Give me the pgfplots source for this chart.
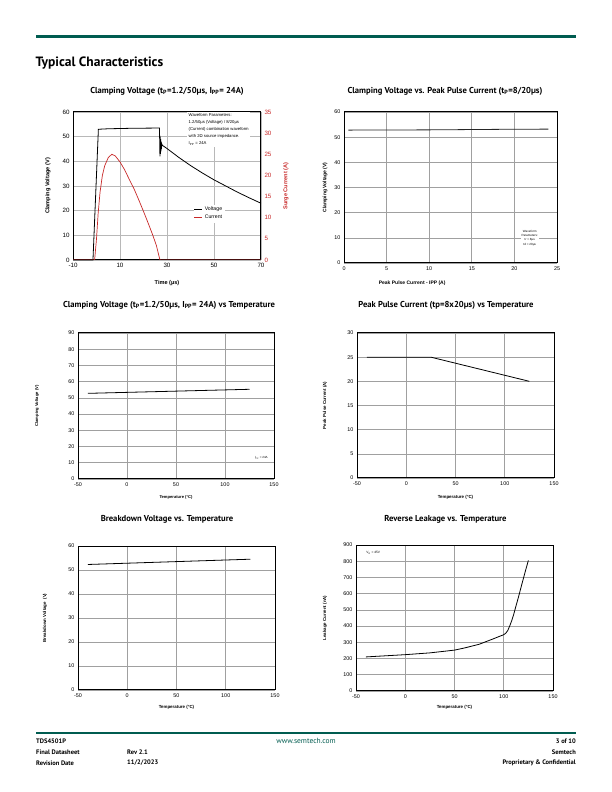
\documentclass[border=0pt]{standalone}
\usepackage{fontspec}
\setmainfont{PT Sans}
\newfontfamily\af{Liberation Sans}
\usepackage{pgfplots}
\pgfplotsset{compat=1.18}
\definecolor{semgreen}{RGB}{0,92,80}
\definecolor{cred}{RGB}{200,40,40}
\definecolor{gridc}{RGB}{160,160,160}
\newcommand{\fs}[1]{\fontsize{#1}{#1}\selectfont}
\pgfplotsset{
 ds/.style={scale only axis, anchor=south west, axis line style={line width=1pt},
   grid=major, grid style={gridc, line width=0.65pt}, major tick length=0pt,
   tick label style={font=\af\fs{5.4}}, /pgf/number format/assume math mode=true,
   label style={font=\af\bfseries\fs{4.4}}, clip=false},
 xl/.style={xlabel style={at={(axis description cs:#1)}, anchor=center}},
 yl/.style={ylabel style={at={(axis description cs:#1)}, anchor=center}},
}
\begin{document}
\begin{tikzpicture}
\fill[white] (0,0) rectangle (612pt,792pt);
\useasboundingbox (0,0) rectangle (612pt,792pt);
% header
\draw[semgreen, line width=3pt] (36pt,755pt) -- (576pt,755pt);
\node[anchor=west, inner sep=0, font=\bfseries\fs{13.5}] at (35.5pt,729pt) {Typical Characteristics};
% footer
\draw[semgreen, line width=2.5pt] (36pt,59pt) -- (576pt,59pt);
\node[anchor=west, inner sep=0, font=\bfseries\fs{6.5}] at (36pt,51pt) {TDS4501P};
\node[anchor=west, inner sep=0, font=\bfseries\fs{6.5}] at (36pt,40pt) {Final Datasheet};
\node[anchor=west, inner sep=0, font=\bfseries\fs{6.5}] at (36pt,29pt) {Revision Date};
\node[anchor=west, inner sep=0, font=\bfseries\fs{6.5}] at (127pt,40pt) {Rev 2.1};
\node[anchor=west, inner sep=0, font=\bfseries\fs{6.5}] at (127pt,29pt) {11/2/2023};
\node[inner sep=0, font=\fs{7.5}, text=semgreen] at (306pt,51pt) {www.semtech.com};
\node[anchor=east, inner sep=0, font=\bfseries\fs{6.5}] at (576pt,51pt) {3 of 10};
\node[anchor=east, inner sep=0, font=\bfseries\fs{6.5}] at (576pt,40pt) {Semtech};
\node[anchor=east, inner sep=0, font=\bfseries\fs{6.5}] at (576pt,29pt) {Proprietary \& Confidential};

% ---------- Plot 1 ----------
\node[font=\bfseries\fs{8.6}] at (167pt,701pt) {Clamping Voltage (t\textsubscript{P}=1.2/50µs, I\textsubscript{PP}= 24A)};
\begin{axis}[ds, at={(73pt,532pt)}, width=188pt, height=148pt,
  xmin=-10, xmax=70, ymin=0, ymax=60, xtick={-10,10,...,70}, ytick={0,10,...,60},
  grid style={gridc!75}, tick label style={font=\af\fs{6.2}},
  label style={font=\af\bfseries\fs{5.6}},
  xlabel={Time (µs)}, ylabel={Clamping Voltage (V)},
  xl={0.5,-0.155}, yl={-0.133,0.5}]
\addplot[black, line width=0.8pt] coordinates {
(-10,0) (-1.5,0) (0.8,53) (5,53.2) (15,53.4) (26.8,53.5) (27.0,42) (27.1,50) (27.2,43)
(27.3,49) (27.4,44) (27.5,48) (27.6,45) (27.8,47) (28,46.5) (30,45.2) (35,41.6) (40,38.3)
(45,35.3) (50,32.5) (55,30) (60,27.5) (65,25.2) (70,23)};
\end{axis}
\begin{axis}[scale only axis, anchor=south west, at={(73pt,532pt)}, width=188pt, height=148pt,
  xmin=-10, xmax=70, ymin=0, ymax=35, axis x line=none, axis y line*=right,
  ytick={0,5,...,35}, major tick length=0pt, axis line style={line width=1pt},
  /pgf/number format/assume math mode=true,
  yticklabel style={font=\af\fs{6.2}, text=cred},
  ylabel={Surge Current (A)}, ylabel style={font=\af\bfseries\fs{5.6}, text=cred, at={(axis description cs:1.133,0.5)}, anchor=center},
  legend style={at={(0.64,0.375)}, anchor=north west, draw=none, fill=white, font=\af\fs{5.2}, inner sep=0.5pt, row sep=-1.5pt},
  legend image code/.code={\draw[#1] (0pt,0pt) -- (8pt,0pt);}]
\addlegendimage{black, line width=0.8pt}
\addlegendentry{Voltage}
\addplot[cred, line width=0.7pt] coordinates {
(-10,0) (-0.8,0) (0,5) (0.7,11) (1.5,16) (2.5,20) (3.5,22.3) (5,24.2) (6.5,25) (8,24.6)
(10,23.2) (12,21.3) (14,19) (16,16.8) (18,14.2) (20,11.5) (22,8.7) (24,5.8) (25.5,3.4)
(27,0) (70,0)};
\addlegendentry{Current}
\end{axis}
\node[fill=white, anchor=north west, align=left, font=\af\fontsize{4.2}{7}\selectfont, inner sep=1.5pt] at (187pt,680pt)
 {Waveform Parameters:\\1.2/50µs (Voltage) / 8/20µs\\(Current) combination waveform\\with 2Ω source impedance.\\I\textsubscript{PP} = 24A};

% ---------- Plot 2 ----------
\node[font=\bfseries\fs{8.6}] at (445pt,701pt) {Clamping Voltage vs. Peak Pulse Current (t\textsubscript{P}=8/20µs)};
\begin{axis}[ds, at={(344pt,529pt)}, width=213pt, height=151pt,
  xmin=0, xmax=25, ymin=0, ymax=60, xtick={0,5,...,25}, ytick={0,10,...,60},
  label style={font=\af\bfseries\fs{5}},
  xlabel={Peak Pulse Current - IPP (A)}, ylabel={Clamping Voltage (V)},
  xl={0.32,-0.132}, yl={-0.089,0.5}]
\addplot[black!85, line width=0.8pt] coordinates {(0.5,52.8) (10,52.9) (18,53.1) (24,53.2)};
\node[fill=white, align=center, font=\af\fontsize{3}{4.3}\selectfont, inner sep=1pt] at (axis cs:21.8,10)
 {Waveform\\Parameters:\\tr = 8µs\\td = 20µs};
\end{axis}

% ---------- Plot 3 ----------
\node[font=\bfseries\fs{8.6}] at (169pt,487pt) {Clamping Voltage (t\textsubscript{P}=1.2/50µs, I\textsubscript{PP}= 24A) vs Temperature};
\begin{axis}[ds, at={(78pt,313pt)}, width=196pt, height=146pt,
  xmin=-50, xmax=150, ymin=0, ymax=90, xtick={-50,0,...,150}, ytick={0,10,...,90},
  xlabel={Temperature (°C)}, ylabel={Clamping Voltage (V)},
  label style={font=\af\bfseries\fs{4.1}},
  xl={0.5,-0.123}, yl={-0.209,0.5}]
\addplot[black, line width=0.8pt] coordinates {(-40,52.8) (125,55.3)};
\node[font=\af\fs{3}] at (axis cs:137,13) {I\textsubscript{PP} = 24A};
\end{axis}

% ---------- Plot 4 ----------
\node[font=\bfseries\fs{8.6}] at (446pt,487pt) {Peak Pulse Current (tp=8x20µs) vs Temperature};
\begin{axis}[ds, at={(357pt,314pt)}, width=197pt, height=145pt,
  xmin=-50, xmax=150, ymin=0, ymax=30, xtick={-50,0,...,150}, ytick={0,5,...,30},
  xlabel={Temperature (°C)}, ylabel={Peak Pulse Current (A)},
  xl={0.5,-0.131}, yl={-0.162,0.5}]
\addplot[black, line width=0.8pt] coordinates {(-40,25) (25,25) (125,20)};
\end{axis}

% ---------- Plot 5 ----------
\node[font=\bfseries\fs{8.6}] at (167pt,273pt) {Breakdown Voltage vs. Temperature};
\begin{axis}[ds, at={(78pt,102pt)}, width=197pt, height=144pt,
  xmin=-50, xmax=150, ymin=0, ymax=60, xtick={-50,0,...,150}, ytick={0,10,...,60},
  xlabel={Temperature (°C)}, ylabel={Breakdown Voltage\ \ (V)},
  xl={0.5,-0.118}, yl={-0.168,0.5}]
\addplot[black, line width=0.8pt] coordinates {(-40,52.3) (125,54.5)};
\end{axis}

% ---------- Plot 6 ----------
\node[font=\bfseries\fs{8.6}] at (445.5pt,273pt) {Reverse Leakage vs. Temperature};
\begin{axis}[ds, at={(356pt,101pt)}, width=197pt, height=146pt,
  xmin=-50, xmax=150, ymin=0, ymax=900, xtick={-50,0,...,150}, ytick={0,100,...,900},
  xlabel={Temperature (°C)}, ylabel={Leakage Current (nA)},
  xl={0.5,-0.11}, yl={-0.157,0.5}]
\addplot[black, line width=0.8pt] coordinates {
(-40,210) (-20,217) (0,224) (25,235) (50,252) (60,265) (75,288) (90,323) (97,340) (100,347)
(102,356) (104,372) (106,400) (108,432) (110,470) (112,515) (115,580) (118,650) (120,695)
(122,740) (125,805)};
\node[font=\af\fs{3.2}, anchor=west] at (axis cs:-43,850) {V\textsubscript{R} = 45V};
\end{axis}
\end{tikzpicture}
\end{document}
